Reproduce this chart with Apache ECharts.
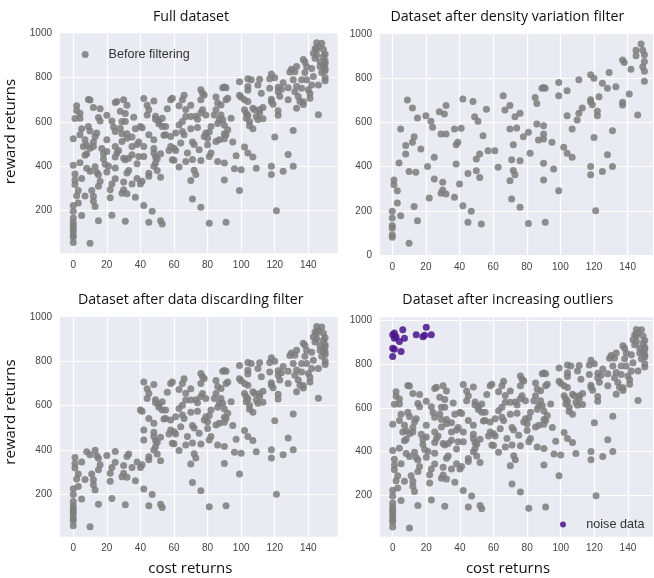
<!DOCTYPE html>
<html>
<head>
<meta charset="utf-8">
<script src="https://cdn.jsdelivr.net/npm/echarts@6/dist/echarts.min.js"></script>
<style>
html,body{margin:0;padding:0;background:#fff;}
#chart{width:654px;height:578px;}
</style>
</head>
<body>
<div id="chart"></div>
<script>
// ---- Data (cost return, reward return) ----
// Points kept by the density variation filter (top-right panel)
const keptPoints = [
[0,198],[0,167],[0,133],[0,121],[0,90],[0,80],
[1,339],[1,318],[3,291],[3,235],[4,416],[5,178],[5,570],
[8,457],[8,495],[9,701],[10,53],[10,378],[12,510],[13,535],[12,665],[13,219],[14,374],[15,155],[15,620],[17,480],
[20,630],[21,401],[22,258],[23,605],[24,578],[25,442],[25,344],[28,648],[29,547],[30,329],[30,294],[29,279],[31,638],[32,676],[32,547],[32,276],
[37,261],[37,570],[38,499],[38,412],[39,510],[40,321],[41,574],[42,706],[42,223],[45,369],[45,148],[47,198],[48,695],[49,626],[50,381],[50,434],[51,605],[52,457],[52,351],[53,140],[54,540],[56,660],[57,472],[61,472],[63,397],
[66,721],[67,656],[70,676],[70,570],[70,336],[71,431],[72,499],[72,382],[73,363],[71,253],[73,626],[74,575],[76,641],[76,427],[76,216],[78,535],[81,555],[81,143],[82,460],
[85,713],[86,686],[86,593],[87,520],[89,755],[90,758],[91,755],[90,585],[90,547],[90,525],[90,415],[90,339],[91,148],[95,510],[96,389],
[99,781],[99,721],[99,291],[102,487],[104,743],[104,630],[104,460],[107,442],[107,570],[110,611],[111,641],[111,793],[113,665],
[118,816],[120,800],[118,703],[118,693],[119,680],[118,401],[118,363],[120,532],[121,200],[122,651],[122,630],[123,716],[125,777],[125,378],[128,454],[128,755],[129,826],[131,562],[131,401],[133,761],
[137,882],[138,871],[137,691],[137,679],[141,728],[142,841],[145,927],[145,902],[146,633],[148,955],[149,927],[150,906],[150,876],[149,852],[150,831],[150,786]
];
// Points removed by the density variation filter (present in the full dataset)
const removedPoints = [
[0,224],[0,147],[0,107],[0,57],[0,525],[0,405],
[1,366],[1,616],[2,673],[2,652],[2,268],[4,640],[4,617],[4,542],[5,345],
[6,490],[7,450],[7,520],[7,266],[10,699],[9,580],[10,560],[10,482],[8,392],
[12,490],[11,291],[12,265],[12,243],[13,398],[15,362],[15,310],[16,333],[14,550],[16,660],[16,605],
[18,457],[18,433],[19,410],[20,520],[20,467],[20,375],[23,180],[22,295],[23,321],
[25,688],[26,693],[25,557],[25,490],[26,460],[27,472],[25,393],[28,572],
[30,700],[29,602],[31,602],[29,512],[30,437],[31,430],[31,152],[32,527],[32,370],[33,381],[33,437],
[35,490],[35,532],[36,622],[35,452],[35,321],[39,445],[38,345],
[40,580],[42,445],[42,490],[41,333],[44,676],[44,632],[45,655],[45,542],[45,355],
[49,613],[48,520],[48,480],[48,460],[48,400],[49,415],[49,442],
[51,592],[52,155],[53,617],[53,580],[55,542],[55,580],
[58,700],[59,707],[58,535],[58,490],[60,482],[59,430],[60,428],[61,550],
[63,673],[63,587],[65,557],[64,505],[65,700],[67,625],[65,602],[66,542],[67,422],[68,460],
[70,625],[74,613],[71,510],[75,475],[76,700],[76,745],[77,730],[77,655],[78,722],[79,550],[79,632],[80,497],[80,527],
[81,445],[82,580],[84,632],[85,655],[85,512],[86,422],[88,677],[87,610],[88,632],[89,610],
[91,700],[92,707],[91,542],[92,565],[94,617],
[97,448],[100,712],[100,385],[102,700],[102,655],[103,640],[103,617],[104,795],[104,760],[104,692],[105,602],[105,583],
[106,790],[107,662],[108,655],[109,625],[109,392],[110,767],[111,655],[112,730],[113,615],
[117,795],[117,752],[122,757],[122,737],[124,748],[128,700],[130,838],[131,790],[132,827],[132,737],[133,662],[133,850],[134,715],[135,692],
[136,790],[136,752],[138,823],[139,850],[139,790],[140,745],[141,707],[142,767],[143,805],
[143,910],[144,932],[144,887],[145,957],[146,940],[147,872],[147,850],[148,823],[149,895],[150,865],[150,842],[150,800],[146,767]
];
// Artificial outliers added in the bottom-right panel
const noisePoints = [
[0,932],[1,917],[2,924],[1,940],[6,955],[7,917],[4,902],[0,871],[1,867],[5,856],[0,833],[14,932],[18,924],[20,967],[23,932],[19,930]
];
// Tick values shown on the axes
const xTicks = [0,20,40,60,80,100,120,140];
const yTicks = [0,200,400,600,800,1000];

const fullPoints = keptPoints.concat(removedPoints);
// data discarding filter: low-cost samples with high reward are dropped
const discardedPoints = fullPoints.filter(p => !(p[0] < 40 && p[1] > 400));

const GRAY = '#7c7c7c';
const PURPLE = '#4a148c';
const BG = '#EAEAF2';

function xAxis(i, min, max) {
  return {
    type: 'value', gridIndex: i, min: min, max: max, splitNumber: 8,
    axisLine: {show: false}, axisTick: {show: false},
    splitLine: {show: true, showMinLine: false, showMaxLine: false, lineStyle: {color: '#ffffff', width: 1.2}},
    axisLabel: {color: '#444', fontSize: 10, fontFamily: 'Liberation Sans', margin: 7,
      showMinLabel: false, showMaxLabel: false, hideOverlap: false,
      formatter: v => xTicks.indexOf(v) >= 0 ? String(v) : ''}
  };
}
function yAxis(i, min, max) {
  return {
    type: 'value', gridIndex: i, min: min, max: max, splitNumber: 5,
    axisLine: {show: false}, axisTick: {show: false},
    splitLine: {show: true, showMinLine: false, showMaxLine: false, lineStyle: {color: '#ffffff', width: 1.2}},
    axisLabel: {color: '#444', fontSize: 10, fontFamily: 'Liberation Sans', margin: 8, hideOverlap: false,
      showMinLabel: true, showMaxLabel: true,
      formatter: v => yTicks.indexOf(v) >= 0 ? String(v) : ''}
  };
}
function gray(name, i, data) {
  return {type: 'scatter', name: name, xAxisIndex: i, yAxisIndex: i, data: data,
    symbolSize: 7, itemStyle: {color: GRAY, opacity: 0.85}, silent: true, animation: false};
}

const titleFont = '14.2px "Open Sans"';
const labelFont = '15px "Open Sans"';
function txt(text, x, y, font, rot) {
  return {type: 'text', x: x, y: y, rotation: rot || 0,
    style: {text: text, font: font, fill: '#111', align: 'center', verticalAlign: 'middle'}};
}

const chart = echarts.init(document.getElementById('chart'), null, {renderer: 'canvas'});
chart.setOption({
  animation: false,
  backgroundColor: '#ffffff',
  grid: [
    {left: 60, top: 33.3, width: 277.7, height: 220, show: true, backgroundColor: BG, borderWidth: 0},
    {left: 380, top: 34, width: 273, height: 221, show: true, backgroundColor: BG, borderWidth: 0},
    {left: 60, top: 317, width: 277.7, height: 219.7, show: true, backgroundColor: BG, borderWidth: 0},
    {left: 380, top: 317.3, width: 273, height: 219.4, show: true, backgroundColor: BG, borderWidth: 0}
  ],
  xAxis: [xAxis(0, -7.9, 157.5), xAxis(1, -7.3, 155.1), xAxis(2, -7.9, 157.5), xAxis(3, -7.55, 154.9)],
  yAxis: [yAxis(0, 8, 1000), yAxis(1, 0, 1000), yAxis(2, 8, 1000), yAxis(3, 13, 1012)],
  legend: [
    {data: ['Before filtering'], left: 76.7, top: 43, itemWidth: 36.6, itemHeight: 7, itemGap: 0,
     textStyle: {fontSize: 12.6, fontFamily: 'Liberation Sans', color: '#333'}, selectedMode: false},
    {data: ['noise data'], left: 555, top: 513, itemWidth: 36.6, itemHeight: 6, itemGap: 0,
     textStyle: {fontSize: 12.6, fontFamily: 'Liberation Sans', color: '#333'}, selectedMode: false}
  ],
  series: [
    gray('Before filtering', 0, fullPoints),
    gray('After density filter', 1, keptPoints),
    gray('After discarding filter', 2, discardedPoints),
    gray('Original data', 3, fullPoints),
    {type: 'scatter', name: 'noise data', xAxisIndex: 3, yAxisIndex: 3, data: noisePoints,
     symbolSize: 7, itemStyle: {color: PURPLE, opacity: 0.85}, silent: true, animation: false}
  ],
  graphic: [
    txt('Full dataset', 191, 17, titleFont),
    txt('Dataset after density variation filter', 507.3, 16.5, titleFont),
    txt('Dataset after data discarding filter', 190.7, 300, titleFont),
    txt('Dataset after increasing outliers', 507.8, 300, titleFont),
    txt('reward returns', 11, 131.5, labelFont, Math.PI / 2),
    txt('reward returns', 11, 412, labelFont, Math.PI / 2),
    txt('cost returns', 190.3, 569, labelFont),
    txt('cost returns', 508, 569, labelFont)
  ]
});
</script>
</body>
</html>
